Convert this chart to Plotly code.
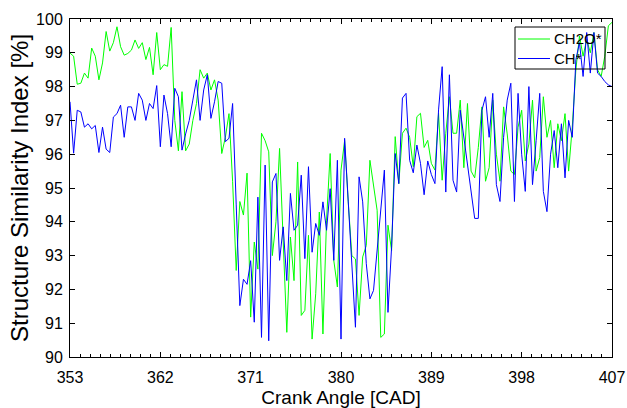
import numpy as np
import plotly.graph_objects as go

# Crank angle grid (CAD), 0.36 CAD step
crank_start = 353.0
crank_step = 0.36
n_points = 151
crank_angle = [round(crank_start + crank_step * i, 2) for i in range(n_points)]

ch2o_ssim = [
    98.99, 98.9, 98.07, 98.1, 98.4, 98.25, 99.14, 98.9, 98.2, 98.7,
    99.63, 99.05, 99.3, 99.77, 99.18, 98.93, 98.98, 99.08, 99.38, 99.13,
    99.3, 98.8, 99.16, 98.35, 99.6, 98.5, 98.65, 98.6, 99.75, 97.0,
    96.1, 97.85, 96.1, 96.3, 97.0, 97.5, 98.5, 98.25, 98.4, 97.9,
    98.2, 97.6, 96.02, 96.5, 97.2, 95.2, 92.56, 94.6, 94.2, 95.44,
    91.18, 93.4, 92.6, 96.62, 96.4, 96.07, 93.0, 94.0, 96.17, 93.45,
    90.73, 93.55, 92.26, 95.77, 91.23, 91.38, 93.6, 90.53, 91.87, 94.29,
    90.68, 94.05, 96.02, 92.86, 92.07, 95.53, 96.4, 94.6, 93.0, 92.9,
    91.23, 92.96, 93.3, 95.82, 95.0, 94.34, 90.58, 90.68, 93.9, 93.15,
    96.52, 95.13, 96.62, 96.77, 96.5, 95.63, 97.11, 97.21, 96.2, 96.41,
    95.73, 95.53, 97.21, 95.23, 96.62, 97.7, 96.62, 96.62, 97.6, 95.6,
    97.5, 95.5, 95.3, 96.2, 97.4, 95.2, 95.6, 97.6, 96.0, 95.2,
    97.4, 96.6, 95.5, 95.4, 96.8, 97.3, 95.8, 96.3, 97.6, 95.5,
    95.9, 97.7, 96.5, 97.0, 95.6, 96.9, 96.4, 97.2, 95.5, 96.8,
    98.5, 99.5, 98.9, 99.4, 99.0, 99.6, 98.5, 98.3, 98.9, 99.8, 99.9,
]

ch_ssim = [
    97.55, 96.03, 97.3, 97.25, 96.8, 96.9, 96.75, 96.85, 96.05, 96.8,
    96.15, 96.05, 97.1, 97.2, 97.45, 96.5, 97.4, 97.4, 97.0, 97.8,
    97.6, 97.0, 97.5, 97.35, 98.03, 96.22, 97.75, 97.2, 96.22, 97.95,
    97.7, 96.12, 96.6, 97.0, 97.6, 98.2, 97.0, 97.9, 98.35, 97.06,
    97.55, 98.15, 98.1, 96.37, 96.47, 97.5, 94.5, 91.52, 92.3, 92.15,
    92.85, 91.03, 94.73, 90.58, 95.68, 90.48, 95.18, 95.43, 92.86, 93.85,
    92.26, 94.84, 93.75, 93.9, 95.38, 92.91, 95.63, 93.1, 93.95, 93.6,
    94.59, 93.75, 94.98, 92.86, 95.82, 90.53, 96.47, 94.54, 92.86, 90.88,
    95.33, 94.59, 92.76, 91.72, 91.97, 93.15, 94.34, 95.53, 91.32, 93.25,
    96.02, 95.13, 97.66, 97.8, 95.82, 95.45, 96.27, 95.73, 94.8, 95.8,
    95.4, 95.13, 97.31, 98.59, 94.88, 98.35, 95.23, 94.88, 97.3, 96.5,
    95.58, 94.9, 94.1, 94.1, 97.3, 97.7, 96.5, 97.8, 95.1, 94.6,
    96.5, 97.6, 98.1, 94.6, 97.8, 96.0, 94.9, 98.0, 95.1, 96.4,
    97.8, 94.9, 94.3, 96.0, 96.7, 95.6, 96.9, 95.3, 97.0, 96.5,
    98.8, 99.3, 98.3, 99.6, 98.4, 99.6, 98.4, 98.3, 98.15, 98.05, 98.0,
]

series_names = ["CH2O*", "CH*"]
series_colors = ["#00ff00", "#0000ff"]

x_ticks = [353, 362, 371, 380, 389, 398, 407]
y_ticks = [90, 91, 92, 93, 94, 95, 96, 97, 98, 99, 100]

FONT = "Liberation Sans, Arial, sans-serif"

fig = go.Figure()
for name, vals, col in zip(series_names, [ch2o_ssim, ch_ssim], series_colors):
    fig.add_trace(go.Scatter(x=crank_angle, y=vals, mode="lines", name=name,
                             line=dict(color=col, width=1), showlegend=False))

axis_common = dict(
    showline=True, linecolor="black", linewidth=1, mirror="allticks",
    ticks="inside", ticklen=5, tickcolor="black", tickwidth=1,
    showgrid=False, zeroline=False, automargin=False,
    tickfont=dict(family=FONT, size=16, color="black"),
)

fig.update_xaxes(range=[353, 407], tickvals=x_ticks,
                 minor=dict(dtick=1, ticks="inside", ticklen=3, tickcolor="black"),
                 ticklabelstandoff=6,
                 title=dict(text="Crank Angle [CAD]", font=dict(family=FONT, size=19, color="black"),
                            standoff=6),
                 **axis_common)
fig.update_yaxes(range=[90, 100], tickvals=y_ticks,
                 ticklabelstandoff=3,
                 title=dict(text="Structure Similarity Index [%]",
                            font=dict(family=FONT, size=24, color="black"), standoff=0),
                 **axis_common)

# Legend box drawn in paper coordinates (transparent, black border, like the reference)
W, H = 627, 408
ml, mr, mt, mb = 70, 15, 19, 51
pw, ph = W - ml - mr, H - mt - mb


def px(x):
    return (x - ml) / pw


def py(y):
    return (H - mb - y) / ph


shapes = [dict(type="rect", xref="paper", yref="paper",
               x0=px(515), x1=px(605), y0=py(69), y1=py(27),
               line=dict(color="black", width=1), fillcolor="rgba(0,0,0,0)", layer="above")]
annotations = []
for k, (name, col) in enumerate(zip(series_names, series_colors)):
    yy = 39 + k * 19.5
    shapes.append(dict(type="line", xref="paper", yref="paper",
                       x0=px(518), x1=px(550), y0=py(yy), y1=py(yy),
                       line=dict(color=col, width=1), layer="above"))
    annotations.append(dict(xref="paper", yref="paper", x=px(552), y=py(yy),
                            xanchor="left", yanchor="middle", showarrow=False,
                            text=name, font=dict(family=FONT, size=15, color="black")))

fig.update_layout(
    width=W, height=H,
    margin=dict(l=ml, r=mr, t=mt, b=mb),
    paper_bgcolor="white", plot_bgcolor="white",
    shapes=shapes, annotations=annotations,
    showlegend=False,
)

fig.write_html("out.html")
